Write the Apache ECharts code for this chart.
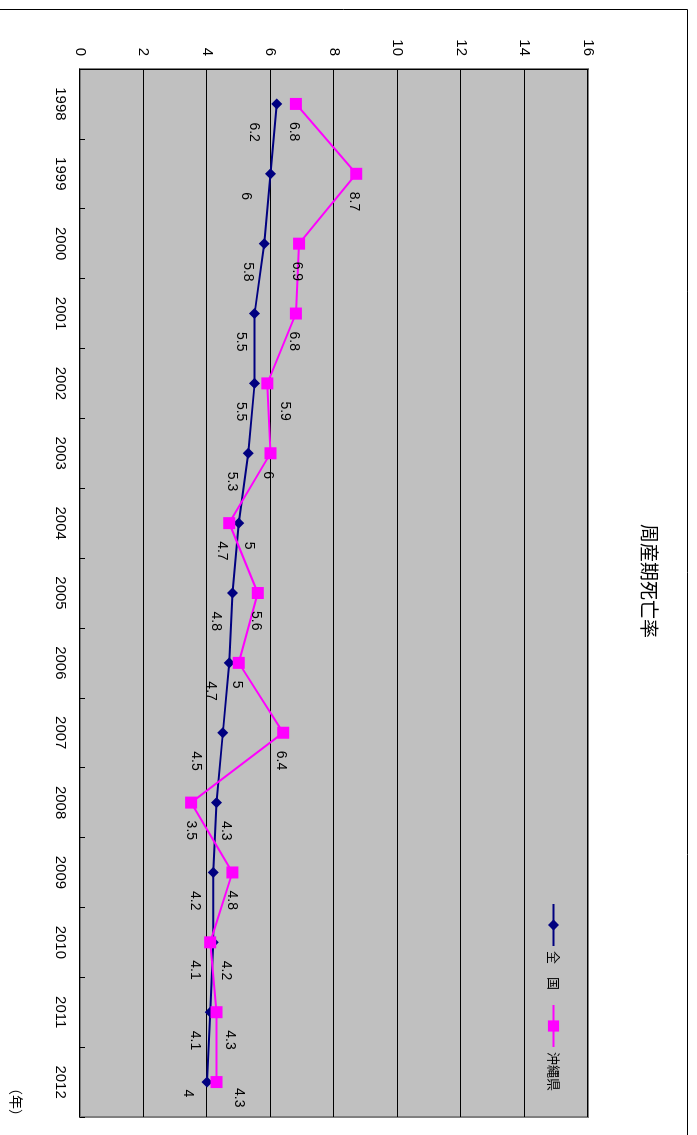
<!DOCTYPE html>
<html>
<head>
<meta charset="utf-8">
<script src="https://cdn.jsdelivr.net/npm/echarts@6/dist/echarts.min.js"></script>
<style>
  html, body { margin: 0; padding: 0; background: #fff; overflow: hidden; }
  body { width: 697px; height: 1135px; position: relative; }
  /* the landscape chart is turned a quarter turn clockwise onto the portrait page */
  #chart {
    position: absolute; left: 0; top: 0;
    width: 1135px; height: 697px;
    transform-origin: 0 0;
    transform: translate(697px, 0) rotate(90deg);
  }
</style>
</head>
<body>
<div id="chart"></div>
<script>
// 周産期死亡率 (出産千対)
const years = ['1998', '1999', '2000', '2001', '2002', '2003', '2004', '2005',
               '2006', '2007', '2008', '2009', '2010', '2011', '2012'];
const national = [6.2, 6, 5.8, 5.5, 5.5, 5.3, 5, 4.8, 4.7, 4.5, 4.3, 4.2, 4.2, 4.1, 4];
const okinawa  = [6.8, 8.7, 6.9, 6.8, 5.9, 6, 4.7, 5.6, 5, 6.4, 3.5, 4.8, 4.1, 4.3, 4.3];
const seriesNames = ['全　国', '沖縄県'];
const valueMin = 0, valueMax = 16, valueStep = 2;

// hand-placed data label nudges [dx, dy] so the two series' labels stay clear of each other
const nationalLabelNudge = [[0,23],[0,25],[0,16],[0,14],[0,14],[0,16],[0,-10],[0,17],
                            [0,18],[0,27],[0,-9],[0,18],[0,-13],[0,15],[-11,19]];
const okinawaLabelNudge  = [[0,2],[0,2],[0,2],[0,2],[0,-18],[0,3],[0,7],[0,2],
                            [0,2],[0,2],[0,0],[0,1],[0,15],[0,-13],[-12,-22]];

const latin = '"Liberation Sans", Arial, sans-serif';
const cjk = '"Noto Sans CJK JP", "Noto Sans CJK SC", sans-serif';

function points(values, nudges) {
  return values.map((v, i) => ({ value: v, label: { offset: nudges[i] } }));
}

const chart = echarts.init(document.getElementById('chart'), null, { renderer: 'canvas' });

chart.setOption({
  animation: false,
  backgroundColor: '#ffffff',
  grid: {
    left: 69, top: 109, width: 1048, height: 508,
    show: true,
    backgroundColor: '#c0c0c0',
    borderColor: '#808080',
    borderWidth: 2,
    containLabel: false
  },
  legend: {
    data: seriesNames,
    left: 898, top: 132,
    itemWidth: 42, itemHeight: 14, itemGap: 14,
    textStyle: { fontFamily: cjk, fontSize: 13, color: '#000' }
  },
  xAxis: {
    type: 'category',
    data: years,
    boundaryGap: true,
    axisLine: { show: true, lineStyle: { color: '#000', width: 1 } },
    axisTick: { show: true, inside: true, length: 5, lineStyle: { color: '#000' } },
    axisLabel: { fontFamily: latin, fontSize: 15, color: '#000', margin: 12 },
    splitLine: { show: false }
  },
  yAxis: {
    type: 'value',
    min: valueMin, max: valueMax, interval: valueStep,
    axisLine: { show: true, lineStyle: { color: '#000', width: 1 } },
    axisTick: { show: false },
    axisLabel: { fontFamily: latin, fontSize: 15, color: '#000', margin: 13 },
    splitLine: { show: true, lineStyle: { color: '#000', width: 1 } }
  },
  series: [
    {
      name: seriesNames[0],
      type: 'line',
      data: points(national, nationalLabelNudge),
      symbol: 'diamond',
      symbolSize: 11,
      itemStyle: { color: '#000080' },
      lineStyle: { color: '#000080', width: 2 },
      label: {
        show: true, position: 'right', distance: 13,
        fontFamily: latin, fontSize: 14, color: '#000'
      },
      z: 3
    },
    {
      name: seriesNames[1],
      type: 'line',
      data: points(okinawa, okinawaLabelNudge),
      symbol: 'rect',
      symbolSize: 12,
      itemStyle: { color: '#ff00ff' },
      lineStyle: { color: '#ff00ff', width: 2 },
      label: {
        show: true, position: 'right', distance: 12,
        fontFamily: latin, fontSize: 14, color: '#000'
      },
      z: 4
    }
  ],
  graphic: [
    {
      type: 'rect', silent: true, z: -1,
      shape: { x: 9.5, y: 9.5, width: 1200, height: 800 },
      style: { fill: null, stroke: '#000', lineWidth: 1 }
    },
    {
      type: 'text', silent: true,
      x: 581, y: 48,
      style: {
        text: '周産期死亡率', fontFamily: cjk, fontSize: 19, fill: '#000',
        align: 'center', verticalAlign: 'middle'
      }
    },
    {
      type: 'text', silent: true,
      x: 1102, y: 681,
      style: {
        text: '（年）', fontFamily: cjk, fontSize: 14, fill: '#000',
        align: 'center', verticalAlign: 'middle'
      }
    }
  ]
});
</script>
</body>
</html>
